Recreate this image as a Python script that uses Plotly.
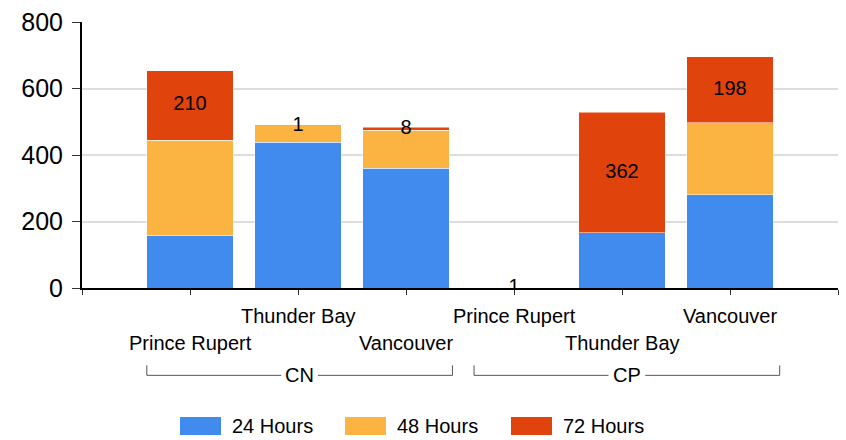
import plotly.graph_objects as go

companies = ["CN", "CN", "CN", "CP", "CP", "CP"]
ports = ["Prince Rupert", "Thunder Bay", "Vancouver", "Prince Rupert", "Thunder Bay", "Vancouver"]
series_names = ["24 Hours", "48 Hours", "72 Hours"]
h24 = [157, 439, 360, 0, 166, 281]
h48 = [287, 49, 115, 0, 0, 216]
h72 = [210, 1, 8, 1, 362, 198]
colors = ["#418BEF", "#FBB342", "#E0430C"]
y_ticks = [0, 200, 400, 600, 800]

FONT = "Arial, Liberation Sans, sans-serif"
xpos = list(range(len(ports)))

fig = go.Figure()
for name, vals, col in zip(series_names, [h24, h48, h72], colors):
    fig.add_trace(go.Bar(
        x=xpos, y=vals, name=name, width=0.8,
        marker=dict(color=col, line=dict(color="rgba(255,255,255,0.5)", width=1)),
        showlegend=False,
    ))

# data labels for 72 Hours (centered in segment)
label_y = [a + b + c / 2 for a, b, c in zip(h24, h48, h72)]
fig.add_trace(go.Scatter(
    x=xpos, y=label_y, mode="text", text=[str(v) for v in h72],
    textposition="middle center", textfont=dict(size=20, color="black", family=FONT),
    showlegend=False, hoverinfo="skip",
))

TOP, BOTTOM = 20, 288
H = BOTTOM - TOP

def py2paper(py):
    return (BOTTOM - py) / H

annotations = []
for i, p in enumerate(ports):
    py = 343 if i % 2 == 0 else 316
    annotations.append(dict(x=i, y=py2paper(py), xref="x", yref="paper", text=p,
                            showarrow=False, xanchor="center", yanchor="middle",
                            font=dict(size=20, color="black", family=FONT)))

shapes = []
groups = [("CN", -0.4, 2.43), ("CP", 2.63, 5.46)]
by = py2paper(376)
by_top = py2paper(366)
for g, x0, x1 in groups:
    xm = (x0 + x1) / 2
    half = 0.17
    for a, b in [(x0, xm - half), (xm + half, x1)]:
        shapes.append(dict(type="line", xref="x", yref="paper", x0=a, x1=b, y0=by, y1=by,
                           line=dict(color="#555555", width=1)))
    for xx in (x0, x1):
        shapes.append(dict(type="line", xref="x", yref="paper", x0=xx, x1=xx, y0=by, y1=by_top,
                           line=dict(color="#555555", width=1)))
    annotations.append(dict(x=xm, y=by, xref="x", yref="paper", text=g, showarrow=False,
                            xanchor="center", yanchor="middle",
                            font=dict(size=20, color="black", family=FONT)))

W = 846
L, R = 82, 838
def px2paper_x(px):
    return (px - L) / (R - L)

leg_x = [180, 345, 511]
ly0, ly1 = py2paper(436), py2paper(418)
for name, col, lx in zip(series_names, colors, leg_x):
    shapes.append(dict(type="rect", xref="paper", yref="paper",
                       x0=px2paper_x(lx), x1=px2paper_x(lx + 41), y0=ly0, y1=ly1,
                       fillcolor=col, line=dict(width=0)))
    annotations.append(dict(x=px2paper_x(lx + 50), y=py2paper(427), xref="paper", yref="paper",
                            text=name, showarrow=False, xanchor="left", yanchor="middle",
                            font=dict(size=20, color="black", family=FONT)))

fig.update_layout(
    barmode="stack",
    width=846, height=440,
    margin=dict(l=L, r=W - R, t=TOP, b=440 - BOTTOM),
    plot_bgcolor="white", paper_bgcolor="white",
    font=dict(family=FONT, color="black"),
    annotations=annotations, shapes=shapes,
    bargap=0.2,
)
fig.update_xaxes(range=[-1, 6], tickvals=list(range(-1, 7)), ticktext=[""] * 8,
                 ticks="outside", ticklen=5, tickcolor="#333", showgrid=False,
                 showline=True, linecolor="black", linewidth=2, zeroline=False)
fig.update_yaxes(range=[0, 800], tickvals=y_ticks, ticks="outside", ticklen=8, tickcolor="#333",
                 tickfont=dict(size=25, color="black", family=FONT),
                 showgrid=True, gridcolor="#DDDDDD", gridwidth=2,
                 showline=True, linecolor="black", linewidth=2, zeroline=False,
                 ticklabelstandoff=4)

fig.write_html("out.html", config={"displayModeBar": False},
               post_script="document.body.style.margin='0';")
